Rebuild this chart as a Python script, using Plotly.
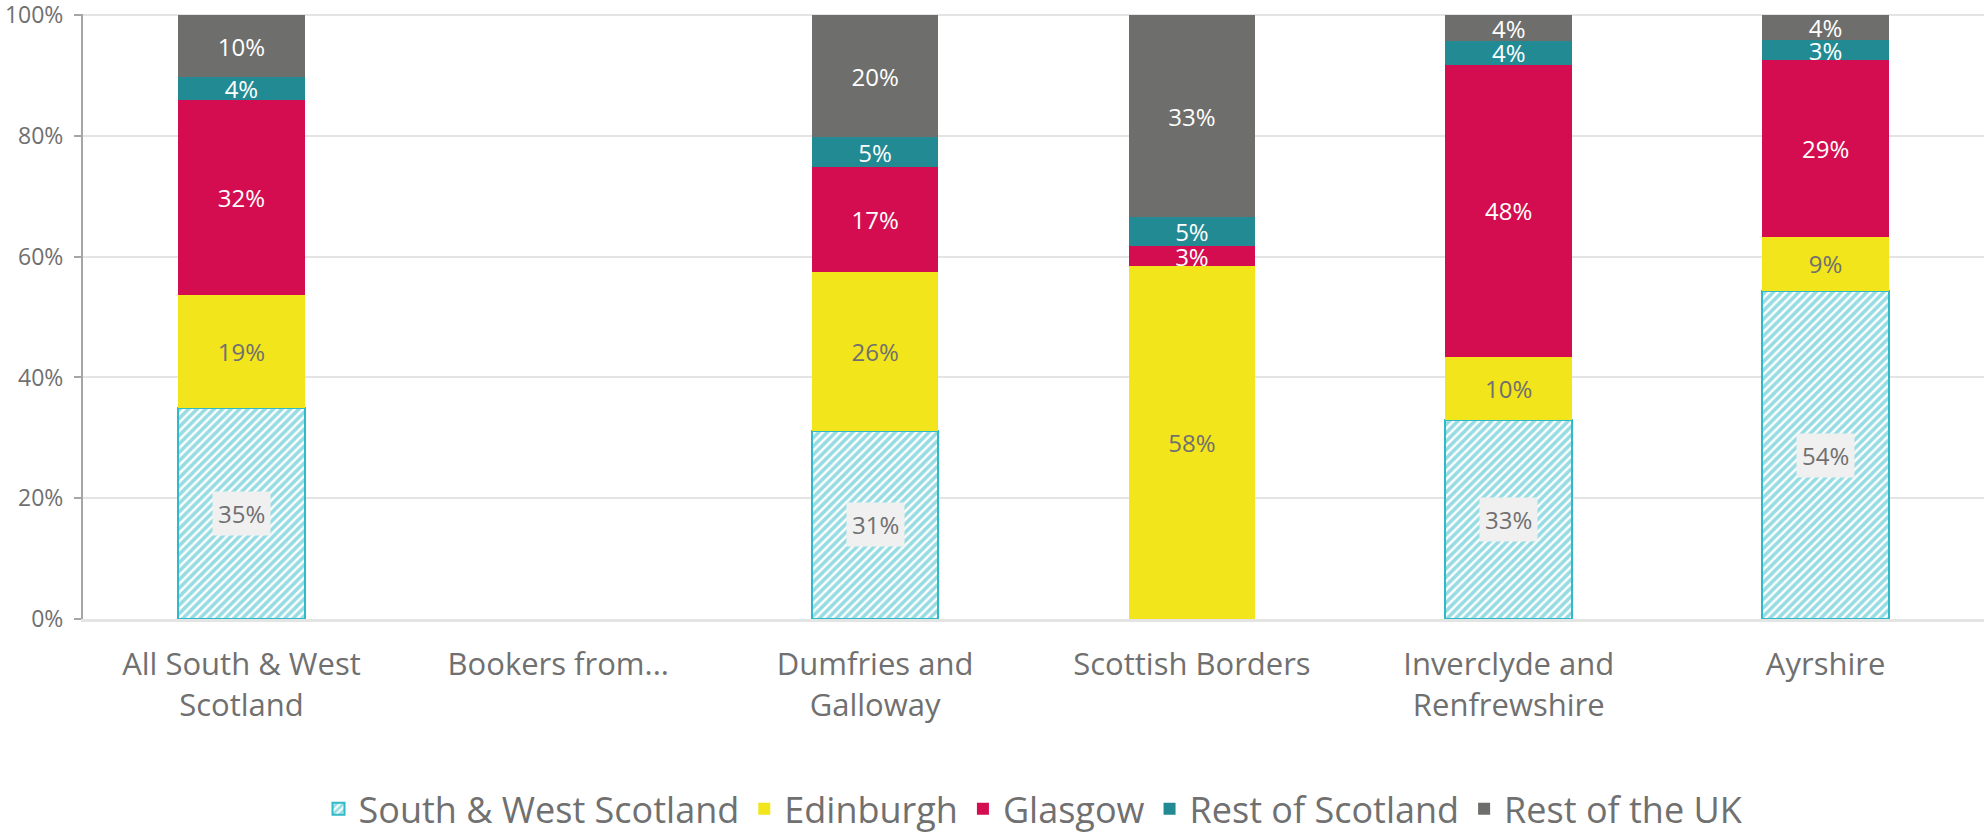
import plotly.graph_objects as go

# Where bookers come from, share of bookings by home area (%)
regions = [
    "All South & West<br>Scotland",
    "Bookers from...",
    "Dumfries and<br>Galloway",
    "Scottish Borders",
    "Inverclyde and<br>Renfrewshire",
    "Ayrshire",
]
south_west_scotland = [35.0, None, 31.2, 0.0, 33.0, 54.3]
edinburgh = [18.7, None, 26.3, 58.4, 10.4, 9.0]
glasgow = [32.2, None, 17.3, 3.4, 48.4, 29.2]
rest_of_scotland = [3.9, None, 5.0, 4.8, 3.9, 3.4]
rest_of_uk = [10.2, None, 20.2, 33.4, 4.3, 4.1]

y_ticks = [0, 20, 40, 60, 80, 100]
y_tick_labels = ["0%", "20%", "40%", "60%", "80%", "100%"]

FONT = "Open Sans"
GREY_TEXT = "#707070"
CYAN = "#30B9C7"

fig = go.Figure()

# Hatched base segment; its labels are added below as boxed annotations
fig.add_trace(go.Bar(
    name="South & West Scotland", x=regions, y=south_west_scotland,
    marker=dict(color="white", line=dict(color=CYAN, width=2),
                pattern=dict(shape="/", fgcolor=CYAN, bgcolor="white",
                             size=6, solidity=0.6)),
    textposition="none",
))

solid_series = [
    ("Edinburgh", edinburgh, "#F2E51B", GREY_TEXT),
    ("Glasgow", glasgow, "#D40D50", "white"),
    ("Rest of Scotland", rest_of_scotland, "#218A93", "white"),
    ("Rest of the UK", rest_of_uk, "#6E6E6C", "white"),
]
for name, values, colour, text_colour in solid_series:
    fig.add_trace(go.Bar(
        name=name, x=regions, y=values,
        marker=dict(color=colour, line=dict(width=0)),
        texttemplate=[("%{y:.0f}%" if (v is not None and v > 0) else "") for v in values],
        textposition="inside", insidetextanchor="middle",
        textfont=dict(family=FONT, size=24, color=text_colour),
    ))

for region, value in zip(regions, south_west_scotland):
    if value:
        fig.add_annotation(
            x=region, y=value / 2, text=f"{value:.0f}%", showarrow=False,
            font=dict(family=FONT, size=24, color=GREY_TEXT),
            bgcolor="#F0F0F0", borderpad=5,
        )

fig.update_layout(
    width=1984, height=839,
    margin=dict(l=83, r=0, t=14, b=220, autoexpand=False),
    barmode="stack", bargap=0.6,
    paper_bgcolor="white", plot_bgcolor="white",
    font=dict(family=FONT, color=GREY_TEXT),
    uniformtext=dict(minsize=24, mode="show"),
    showlegend=True,
    legend=dict(orientation="h", x=0.5, xanchor="center",
                yref="container", y=0.036, yanchor="middle",
                traceorder="normal", font=dict(family=FONT, size=36, color=GREY_TEXT),
                itemwidth=30),
)
fig.update_yaxes(
    range=[0, 100.2], tickvals=y_ticks, ticktext=y_tick_labels,
    showgrid=True, gridcolor="#E4E4E4", gridwidth=2,
    showline=True, linecolor="#A6A6A6", linewidth=2,
    ticks="outside", ticklen=7, tickcolor="#A6A6A6", tickwidth=2,
    ticklabelstandoff=6, ticklabeloverflow="allow",
    tickfont=dict(family=FONT, size=23, color=GREY_TEXT),
    zeroline=False,
)
fig.update_xaxes(
    showline=True, linecolor="#E4E4E4", linewidth=3,
    ticks="", ticklabelstandoff=16,
    tickfont=dict(family=FONT, size=31, color=GREY_TEXT),
)

fig.write_html("out.html")
